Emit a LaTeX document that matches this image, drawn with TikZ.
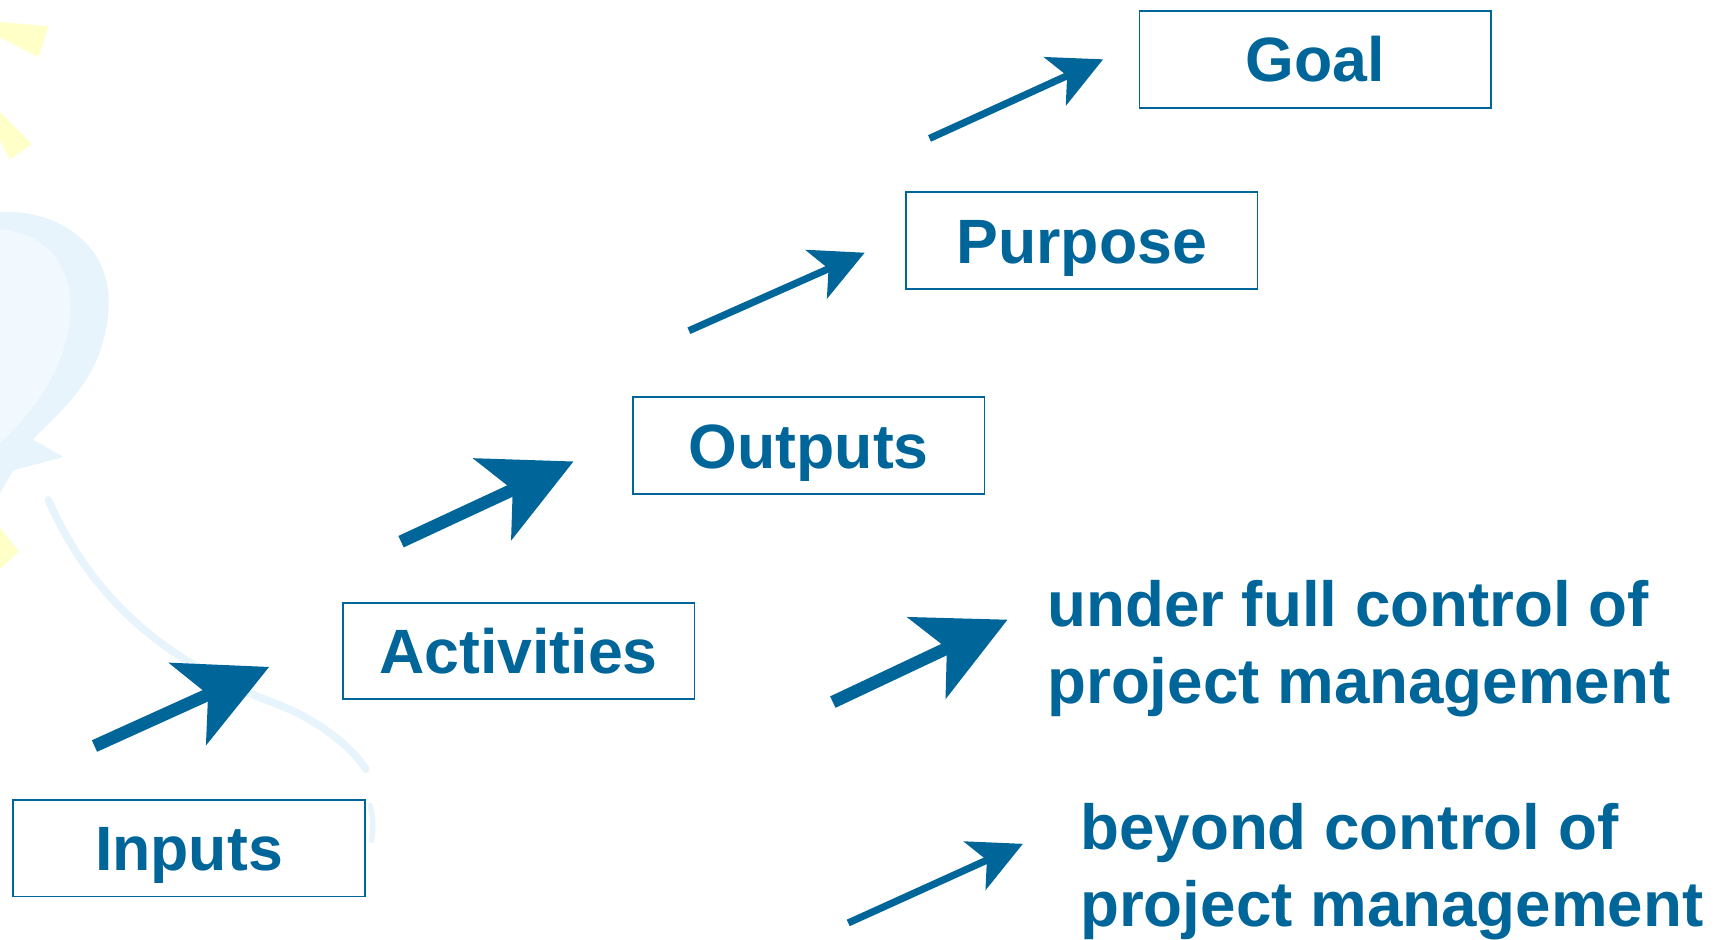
\documentclass[tikz,border=0pt]{standalone}
\usepackage{fontspec}
\setmainfont{Liberation Sans}
\usetikzlibrary{arrows.meta}
\definecolor{pblue}{RGB}{0,102,153}
\definecolor{faintblue}{RGB}{232,244,252}
\definecolor{paleblue}{RGB}{242,249,254}
\definecolor{faintyellow}{RGB}{255,255,200}
\begin{document}
\begin{tikzpicture}[x=1pt,y=-1pt,
  stage/.style={draw=pblue, line width=1.6pt, minimum width=320pt, minimum height=88pt,
    inner sep=0pt, text=pblue, font=\fontsize{57}{68}\selectfont\bfseries,
    text height=41pt, text depth=0pt},
  bigarrow/.style={draw=pblue, line width=11.5pt, -{Stealth[length=81pt,width=81pt,inset=20pt]}},
  smallarrow/.style={draw=pblue, line width=6.5pt, -{Stealth[length=48pt,width=48pt,inset=12pt]}},
  note/.style={text=pblue, font=\fontsize{58}{70}\selectfont\bfseries, anchor=base west, inner sep=0pt},
  deco/.style={faintblue, line width=7pt, line cap=round}]
\useasboundingbox (0,0) rectangle (1560,855.5);
\clip (0,0) rectangle (1560,855.5);
% faint background decoration
\fill[faintyellow] (0,20) -- (44,24) -- (35,52) -- (0,34) -- cycle;
\fill[faintyellow] (0,102) -- (29,131) -- (9,145) -- (0,128) -- cycle;
\fill[faintyellow] (0,480) -- (17,502) -- (0,518) -- cycle;
\fill[faintblue] (0,193) .. controls (55,190) and (100,225) .. (99,275)
  .. controls (98,330) and (70,360) .. (45,385) -- (30,400) -- (58,416) -- (12,428) -- (0,449) -- cycle;
\fill[paleblue] (0,209) .. controls (40,212) and (65,240) .. (64,280)
  .. controls (63,330) and (35,370) .. (0,403) -- cycle;
\draw[deco] (44,455) .. controls (90,560) and (170,610) .. (250,640)
  .. controls (290,655) and (320,680) .. (333,700);
\draw[deco, line width=5pt] (337,733) .. controls (340,745) and (340,755) .. (338,765);
% stages
\node[stage] (goal) at (1197,54) {Goal};
\node[stage] (purpose) at (984.5,219) {Purpose};
\node[stage] (outputs) at (736,405.5) {Outputs};
\node[stage] (activities) at (472,592.5) {Activities};
\node[stage] (inputs) at (172,772) {Inputs};
% arrow end points
\coordinate (a1s) at (86,679);  \coordinate (a1e) at (245,607);
\coordinate (a2s) at (365,493); \coordinate (a2e) at (522,420);
\coordinate (a3s) at (627,301); \coordinate (a3e) at (787,230);
\coordinate (a4s) at (846,126); \coordinate (a4e) at (1004,54);
\coordinate (l1s) at (758,639); \coordinate (l1e) at (917,564);
\coordinate (l2s) at (772,840); \coordinate (l2e) at (931,768);
\draw[bigarrow] (a1s) -- (a1e);
\draw[bigarrow] (a2s) -- (a2e);
\draw[smallarrow] (a3s) -- (a3e);
\draw[smallarrow] (a4s) -- (a4e);
\draw[bigarrow] (l1s) -- (l1e);
\draw[smallarrow] (l2s) -- (l2e);
% legend
\node[note] (full) at (953,570) {\vtop{\hbox{under full control of}\hbox{project management}}};
\node[note] (beyond) at (983,773) {\vtop{\hbox{beyond control of}\hbox{project management}}};
\end{tikzpicture}
\end{document}
